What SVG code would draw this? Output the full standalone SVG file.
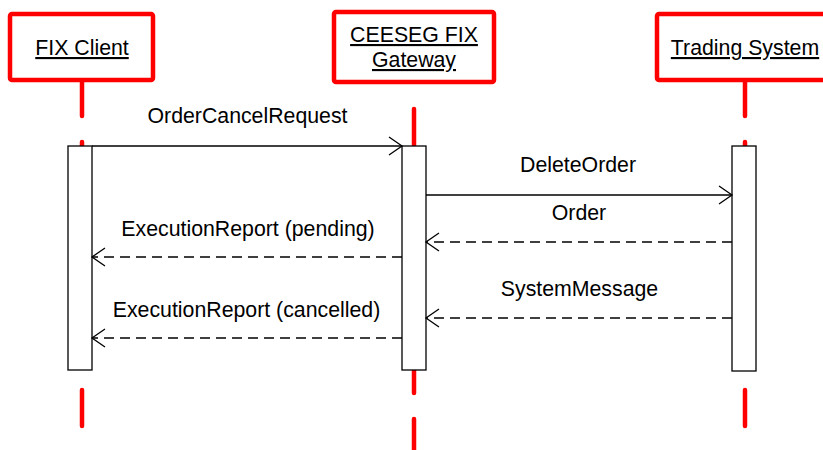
<svg xmlns="http://www.w3.org/2000/svg" width="823" height="450" viewBox="0 0 823 450">
<style>
.head{fill:#fff;stroke:#ff0000;stroke-width:4.5;}
.life{stroke:#ff0000;stroke-width:4.5;stroke-linecap:round;stroke-dasharray:36 26;fill:none;}
.act{fill:#fff;stroke:#000;stroke-width:1.3;}
.msg{stroke:#000;stroke-width:1.4;fill:none;}
.dash{stroke-dasharray:10 6;}
.t{font-family:"Liberation Sans",Arial,sans-serif;font-size:21.3px;fill:#000;text-anchor:middle;}
.u{text-decoration:underline;}
</style>
<defs>
<marker id="arr" markerUnits="userSpaceOnUse" markerWidth="16" markerHeight="22" viewBox="-14 -10 16 20" refX="0" refY="0" orient="auto">
<path d="M-13,-9 L0,0 L-13,9" fill="none" stroke="#000" stroke-width="1.3"/>
</marker>
</defs>
<rect width="823" height="450" fill="#fff"/>
<g id="lifelines">
<line class="life" x1="82" y1="80" x2="82" y2="450"/>
<line class="life" x1="414" y1="109" x2="414" y2="460"/>
<line class="life" x1="745" y1="80" x2="745" y2="450"/>
</g>
<g id="fix-client">
<rect class="head" x="10" y="14" width="143" height="66" rx="2"/>
<text class="t u" x="82" y="55">FIX Client</text>
<rect class="act" x="68" y="146" width="24" height="224"/>
</g>
<g id="gateway">
<rect class="head" x="334" y="12" width="160" height="70" rx="2"/>
<text class="t u" x="414" y="42">CEESEG FIX</text>
<text class="t u" x="414" y="67">Gateway</text>
<rect class="act" x="402" y="146" width="24" height="224"/>
</g>
<g id="trading-system">
<rect class="head" x="657" y="14" width="180" height="66" rx="2"/>
<text class="t u" x="745" y="55">Trading System</text>
<rect class="act" x="732" y="146" width="24" height="225"/>
</g>
<g id="connectors">
<line class="msg" x1="92" y1="146" x2="402" y2="146" marker-end="url(#arr)"/>
<text class="t" x="247.5" y="123">OrderCancelRequest</text>
<line class="msg" x1="426" y1="195" x2="732" y2="195" marker-end="url(#arr)"/>
<text class="t" x="578" y="172">DeleteOrder</text>
<line class="msg dash" x1="732" y1="242" x2="426" y2="242" marker-end="url(#arr)"/>
<text class="t" x="579" y="220">Order</text>
<line class="msg dash" x1="402" y1="257" x2="92" y2="257" marker-end="url(#arr)"/>
<text class="t" x="248" y="236">ExecutionReport (pending)</text>
<line class="msg dash" x1="732" y1="318" x2="426" y2="318" marker-end="url(#arr)"/>
<text class="t" x="579.5" y="296">SystemMessage</text>
<line class="msg dash" x1="402" y1="338" x2="92" y2="338" marker-end="url(#arr)"/>
<text class="t" x="246.5" y="317">ExecutionReport (cancelled)</text>
</g>
</svg>
